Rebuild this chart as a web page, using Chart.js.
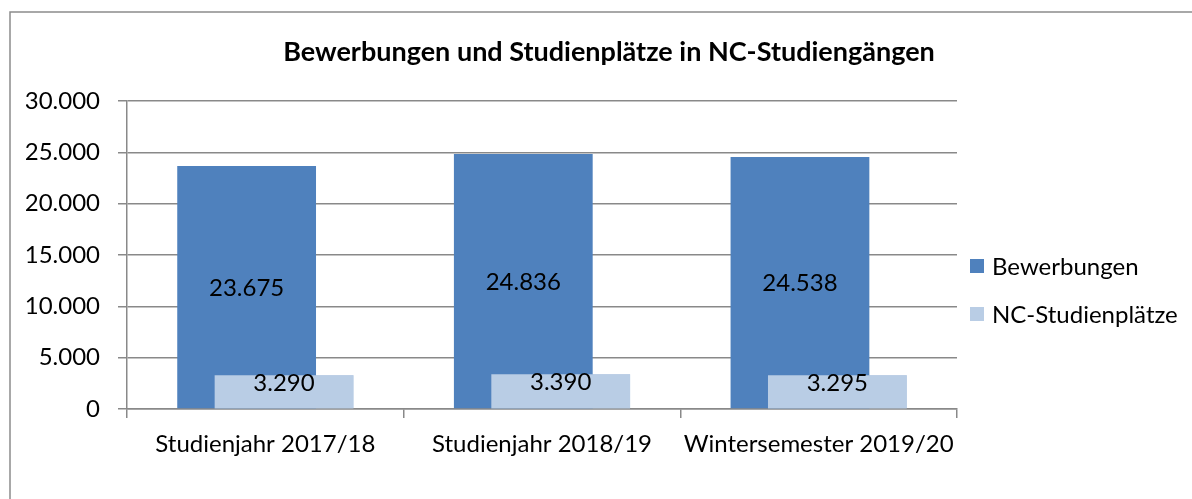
<!DOCTYPE html>
<html>
<head>
<meta charset="utf-8">
<script src="https://cdn.jsdelivr.net/npm/chart.js@4.4.1/dist/chart.umd.min.js"></script>
<style>
  html, body { margin: 0; padding: 0; background: #ffffff; }
  #wrap { width: 1192px; height: 499px; }
</style>
</head>
<body>
<div id="wrap"><canvas id="c" width="1192" height="499"></canvas></div>
<script>
const titleText = 'Bewerbungen und Studienplätze in NC-Studiengängen';
const categories = ['Studienjahr 2017/18', 'Studienjahr 2018/19', 'Wintersemester 2019/20'];
const seriesNames = ['Bewerbungen', 'NC-Studienplätze'];
const bewerbungen = [23675, 24836, 24538];
const ncStudienplaetze = [3290, 3390, 3295];
const yMin = 0;
const yMax = 30000;
const yStep = 5000;

const darkBlue = '#4F81BD';
const lightBlue = '#B9CDE5';
const gridColor = '#898989';
const FONT = 'Lato, "Open Sans", "DejaVu Sans", sans-serif';
const fontSize = 24;

function fmt(v) {
  return String(Math.round(v)).replace(/\B(?=(\d{3})+(?!\d))/g, '.');
}

const borderPlugin = {
  id: 'outerBorder',
  beforeDraw(chart) {
    const ctx = chart.ctx;
    ctx.save();
    ctx.strokeStyle = '#8c8c8c';
    ctx.lineWidth = 1.5;
    ctx.beginPath();
    ctx.moveTo(10, chart.height + 5);
    ctx.lineTo(10, 12);
    ctx.lineTo(chart.width + 5, 12);
    ctx.stroke();
    ctx.restore();
  }
};

const overlapPlugin = {
  id: 'overlapAndLabels',
  afterDatasetsDraw(chart) {
    const ctx = chart.ctx;
    // light bars are drawn in front of the dark ones
    const lightMeta = chart.getDatasetMeta(1);
    lightMeta.data.forEach(el => el.draw(ctx));
    ctx.save();
    ctx.font = fontSize + 'px ' + FONT;
    ctx.fillStyle = '#000000';
    ctx.textAlign = 'center';
    ctx.textBaseline = 'middle';
    const darkMeta = chart.getDatasetMeta(0);
    darkMeta.data.forEach((el, i) => {
      const v = chart.data.datasets[0].data[i];
      ctx.fillText(fmt(v), el.x, (el.y + el.base) / 2 + 1);
    });
    lightMeta.data.forEach((el, i) => {
      const v = chart.data.datasets[1].data[i];
      ctx.fillText(fmt(v), el.x, el.y + 8);
    });
    ctx.restore();
  },
  afterDraw(chart) {
    const ctx = chart.ctx;
    ctx.save();
    ctx.font = fontSize + 'px ' + FONT;
    ctx.textBaseline = 'middle';
    ctx.textAlign = 'left';
    const rows = [266, 314];
    chart.data.datasets.forEach((ds, i) => {
      ctx.fillStyle = ds.backgroundColor;
      ctx.fillRect(970, rows[i] - 7, 14, 14);
      ctx.fillStyle = '#000000';
      ctx.fillText(ds.label, 992, rows[i] + 1);
    });
    ctx.restore();
  }
};

new Chart(document.getElementById('c'), {
  type: 'bar',
  data: {
    labels: categories,
    datasets: [
      {
        label: seriesNames[0],
        data: bewerbungen,
        backgroundColor: darkBlue,
        categoryPercentage: 0.2704,
        barPercentage: 3.71
      },
      {
        label: seriesNames[1],
        data: ncStudienplaetze,
        backgroundColor: lightBlue,
        categoryPercentage: 0.2704,
        barPercentage: 3.71
      }
    ]
  },
  options: {
    responsive: false,
    animation: false,
    devicePixelRatio: 1,
    layout: { padding: { left: 26, right: 0, top: 0, bottom: 41 } },
    plugins: {
      legend: { display: false },
      tooltip: { enabled: false },
      title: {
        display: true,
        text: titleText,
        color: '#000000',
        font: { family: FONT, size: 27, weight: 'bold' },
        padding: { top: 36, bottom: 32.6 }
      }
    },
    scales: {
      x: {
        offset: true,
        grid: { offset: true, drawOnChartArea: false, drawTicks: true, tickLength: 9, color: gridColor, lineWidth: 1.5 },
        border: { display: true, color: gridColor, width: 1.5 },
        ticks: { color: '#000000', font: { family: FONT, size: fontSize }, padding: 12, maxRotation: 0, autoSkip: false },
        afterFit: s => { s.height = 49; }
      },
      y: {
        min: yMin,
        max: yMax,
        ticks: { stepSize: yStep, color: '#000000', font: { family: FONT, size: fontSize }, padding: 18, callback: v => fmt(v) },
        grid: { color: gridColor, lineWidth: 1.5, tickLength: 9, drawTicks: true },
        border: { display: true, color: gridColor, width: 1.5 },
        afterFit: s => { s.width = 101; }
      },
      legendSpace: {
        type: 'linear',
        position: 'right',
        display: true,
        grid: { display: false, drawTicks: false },
        border: { display: false },
        ticks: { display: false },
        afterFit: s => { s.width = 235; }
      }
    }
  },
  plugins: [borderPlugin, overlapPlugin]
});
</script>
</body>
</html>
